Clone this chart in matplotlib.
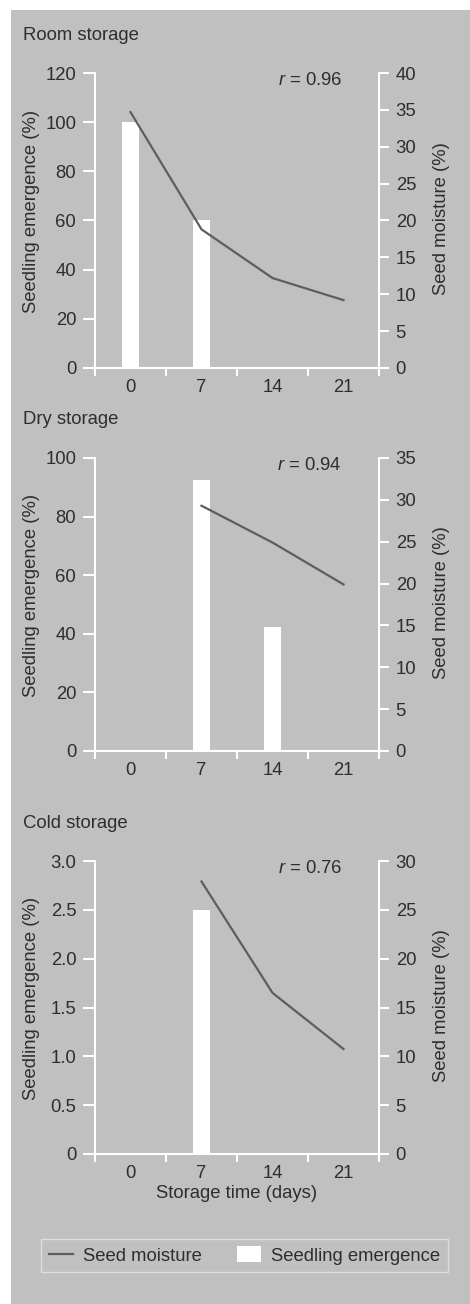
import numpy as np
import matplotlib
matplotlib.use("Agg")
import matplotlib.pyplot as plt
from matplotlib.patches import Rectangle, Patch
from matplotlib.lines import Line2D

plt.rcParams["font.family"] = ["Liberation Sans", "DejaVu Sans"]
plt.rcParams["mathtext.fontset"] = "custom"
plt.rcParams["mathtext.rm"] = "Liberation Sans"
plt.rcParams["mathtext.it"] = "Liberation Sans:italic"

# Data
days = ["0", "7", "14", "21"]
panel_titles = ["Room storage", "Dry storage", "Cold storage"]
r_values = ["0.96", "0.94", "0.76"]

room_emergence = [100, 60, 0, 0]
room_moisture = [34.7, 18.8, 12.2, 9.2]
dry_emergence = [0, 92.5, 42.3, 0]
dry_moisture = [np.nan, 29.3, 24.9, 19.9]
cold_emergence = [0, 2.5, 0, 0]
cold_moisture = [np.nan, 27.9, 16.5, 10.75]

emergence = [room_emergence, dry_emergence, cold_emergence]
moisture = [room_moisture, dry_moisture, cold_moisture]
left_ticks = [[0, 20, 40, 60, 80, 100, 120],
              [0, 20, 40, 60, 80, 100],
              [0, 0.5, 1.0, 1.5, 2.0, 2.5, 3.0]]
left_ticklabels = [["0", "20", "40", "60", "80", "100", "120"],
                   ["0", "20", "40", "60", "80", "100"],
                   ["0", "0.5", "1.0", "1.5", "2.0", "2.5", "3.0"]]
right_ticks = [[0, 5, 10, 15, 20, 25, 30, 35, 40],
               [0, 5, 10, 15, 20, 25, 30, 35],
               [0, 5, 10, 15, 20, 25, 30]]

W, H = 470, 1304
bg = "#c0c0c0"
txt = "#2e2e2e"
line_c = "#5e5e5e"
fs = 13.3

fig = plt.figure(figsize=(W / 100, H / 100), dpi=100, facecolor="white")
fig.patches.append(Rectangle((11 / W, 0), 1 - 11 / W, 1 - 10 / H,
                             transform=fig.transFigure, facecolor=bg,
                             edgecolor="none", zorder=-10))

# panel boxes in pixels: (top, bottom), title y
boxes = [(73, 368, 35), (458, 751, 420), (861, 1154, 823)]
left_px, right_px = 95, 379

x = np.arange(len(days))
for i, (top, bot, ty) in enumerate(boxes):
    ax = fig.add_axes([left_px / W, 1 - bot / H, (right_px - left_px) / W, (bot - top) / H])
    ax.set_facecolor("none")
    ax.bar(x, emergence[i], width=0.24, color="white", zorder=1)
    ax.set_xlim(-0.5, 3.5)
    ax.set_ylim(left_ticks[i][0], left_ticks[i][-1])
    ax.set_yticks(left_ticks[i])
    ax.set_yticklabels(left_ticklabels[i])
    ax.set_xticks(x)
    ax.set_xticklabels(days)
    ax.set_xticks(np.arange(-0.5, 4.0, 1.0), minor=True)
    ax.tick_params(axis="x", which="major", length=0, pad=8, labelsize=fs, labelcolor=txt)
    ax.tick_params(axis="x", which="minor", length=5.5, width=1.5, color="white")
    ax.tick_params(axis="y", length=8.5, width=1.5, color="white", pad=5,
                   labelsize=fs, labelcolor=txt)
    for s in ["top", "right"]:
        ax.spines[s].set_visible(False)
    for s in ["left", "bottom"]:
        ax.spines[s].set_color("white")
        ax.spines[s].set_linewidth(1.5)

    ax2 = ax.twinx()
    ax2.plot(x, moisture[i], color=line_c, lw=1.6, zorder=3)
    ax2.set_ylim(right_ticks[i][0], right_ticks[i][-1])
    ax2.set_yticks(right_ticks[i])
    ax2.tick_params(axis="y", length=7, width=1.5, color="white", pad=5,
                    labelsize=fs, labelcolor=txt)
    for s in ["top", "left", "bottom"]:
        ax2.spines[s].set_visible(False)
    ax2.spines["right"].set_color("white")
    ax2.spines["right"].set_linewidth(1.5)

    ax.text((32 - left_px) / (right_px - left_px), 0.53, "Seedling emergence (%)",
            rotation=90, ha="center", va="center", fontsize=fs, color=txt,
            transform=ax.transAxes)
    ax.text((441 - left_px) / (right_px - left_px), 0.505, "Seed moisture (%)",
            rotation=90, ha="center", va="center", fontsize=fs, color=txt,
            transform=ax.transAxes)
    ax.text(0.87, 0.975, r"$\it{r}$ = " + r_values[i], ha="right", va="center",
            fontsize=fs, color=txt, transform=ax.transAxes)

    fig.text(23 / W, 1 - ty / H, panel_titles[i], ha="left", va="center",
             fontsize=fs, color=txt)

fig.text(237 / W, 1 - 1193 / H, "Storage time (days)", ha="center", va="center",
         fontsize=fs, color=txt)

handles = [Line2D([0], [0], color=line_c, lw=1.6),
           Patch(facecolor="white", edgecolor="none")]
leg = fig.legend(handles, ["Seed moisture", "Seedling emergence"], ncol=2,
                 loc="center", bbox_to_anchor=(244.5 / W, 1 - 1255.5 / H),
                 fontsize=fs, frameon=True, fancybox=False, handlelength=1.3,
                 handleheight=0.9, handletextpad=0.55, columnspacing=1.9,
                 borderpad=0.4, borderaxespad=0)
leg.get_frame().set_facecolor(bg)
leg.get_frame().set_edgecolor("#e6e6e6")
leg.get_frame().set_linewidth(1.0)
for t in leg.get_texts():
    t.set_color(txt)

fig.savefig("out.png", dpi=100, facecolor="white")
